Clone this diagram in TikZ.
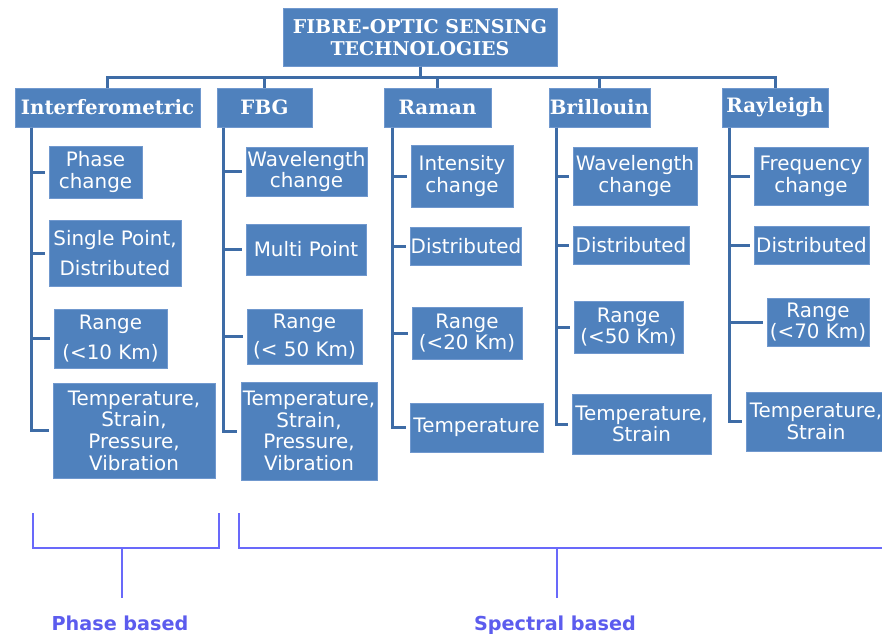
\documentclass[tikz,border=0pt]{standalone}
\usepackage{fontspec}
\setmainfont{DejaVu Sans}
\newfontfamily\hdrfont{DejaVu Serif}
\definecolor{boxfill}{RGB}{79,129,189}
\definecolor{boxedge}{RGB}{112,152,206}
\definecolor{conn}{RGB}{62,108,166}
\definecolor{brk}{RGB}{105,105,250}
\definecolor{brktext}{RGB}{92,92,238}
\begin{document}
\begin{tikzpicture}[x=1pt,y=-1pt,
  wh/.style 2 args={minimum width=#1pt,minimum height=#2pt},
  box/.style={draw=boxedge,line width=1pt,fill=boxfill,text=white,align=center,inner sep=0pt,
    font=\fontsize{19.9}{21.7}\selectfont},
  hdr/.style={box,font=\hdrfont\bfseries\fontsize{19.8}{22}\selectfont},
  ttl/.style={box,font=\hdrfont\bfseries\fontsize{19}{22}\selectfont},
  link/.style={draw=conn,line width=3pt},
  stub/.style={link,shorten >=4pt},
  bracket/.style={draw=brk,line width=2.5pt},
  grp/.style={text=brktext,font=\bfseries\fontsize{19.2}{22}\selectfont,anchor=base,inner sep=0pt}]
\useasboundingbox (0,0) rectangle (882,634);
\fill[white] (0,0) rectangle (882,634);

% title and headers
\node[ttl,wh={274}{57}] (title) at (420,37.5) {FIBRE-OPTIC SENSING\\TECHNOLOGIES};
\node[hdr,wh={185}{39}] (ih) at (107.5,107.5) {Interferometric};
\node[hdr,wh={95}{39}]  (fh) at (264.5,107.5) {FBG};
\node[hdr,wh={107}{39}] (rh) at (437.5,107.5) {Raman};
\node[hdr,wh={101}{39}] (bh) at (599.5,107.5) {Brillouin};
\node[hdr,wh={106}{39}] (yh) at (775,107.5) {Rayleigh};

\foreach \h in {ih,fh,rh,bh,yh}
  \draw[link] (title.south) -- ++(0,11) -| (\h.north);

% column 1
\node[box,wh={93}{52}]  (a1) at (95.5,172)  {Phase\\change};
\node[box,wh={132}{66}] (a2) at (115,253)   {Single Point,\\[8pt]Distributed};
\node[box,wh={113}{59}] (a3) at (110.5,338.5) {Range\\[8pt](<10 Km)};
\node[box,wh={162}{95}] (a4) at (134,430.5) {Temperature,\\Strain,\\Pressure,\\Vibration};
% column 2
\node[box,wh={121}{49}] (b1) at (306.5,171.5) {Wavelength\\change};
\node[box,wh={120}{51}] (b2) at (306,249.5)   {Multi Point};
\node[box,wh={115}{55}] (b3) at (304.5,336.5) {Range\\[6pt](< 50 Km)};
\node[box,wh={136}{98}] (b4) at (309,431)     {Temperature,\\Strain,\\Pressure,\\Vibration};
% column 3
\node[box,wh={102}{62}] (c1) at (462,176)     {Intensity\\change};
\node[box,wh={110}{38}] (c2) at (466,246)     {Distributed};
\node[box,wh={110}{52}] (c3) at (467,333)     {Range\\(<20 Km)};
\node[box,wh={133}{49}] (c4) at (476.5,427.5) {Temperature};
% column 4
\node[box,wh={124}{58}] (d1) at (635,176)     {Wavelength\\change};
\node[box,wh={116}{38}] (d2) at (631,245)     {Distributed};
\node[box,wh={109}{52}] (d3) at (628.5,327)   {Range\\(<50 Km)};
\node[box,wh={139}{60}] (d4) at (641.5,424)   {Temperature,\\Strain};
% column 5
\node[box,wh={114}{58}] (e1) at (811,176)     {Frequency\\change};
\node[box,wh={115}{38}] (e2) at (811.5,245)   {Distributed};
\node[box,wh={102}{48}] (e3) at (818,322)     {Range\\(<70 Km)};
\node[box,wh={140}{59}] (e4) at (816,421.5)   {Temperature,\\Strain};

% trunks and stubs
\foreach \n in {a1,a2,a3,a4}
  \draw[stub] ([xshift=17pt]ih.south west) |- (\n.west);
\foreach \n in {b1,b2,b3,b4}
  \draw[stub] ([xshift=7pt]fh.south west) |- (\n.west);
\foreach \n in {c1,c2,c3,c4}
  \draw[stub] ([xshift=9pt]rh.south west) |- (\n.west);
\foreach \n in {d1,d2,d3,d4}
  \draw[stub] ([xshift=8pt]bh.south west) |- (\n.west);
\foreach \n in {e1,e2,e3,e4}
  \draw[stub] ([xshift=8pt]yh.south west) |- (\n.west);

% grouping brackets
\draw[bracket] (33,513) -- (33,548) -- (219,548) -- (219,513);
\draw[bracket] (239,513) -- (239,548) -- (890,548);
\node[grp] (pb) at (120,630) {Phase based};
\node[grp] (sb) at (555,630) {Spectral based};
\coordinate (pbj) at (122,548);
\coordinate (sbj) at (557,548);
\draw[bracket] (pbj) -- ++(0,50);
\draw[bracket] (sbj) -- ++(0,50);
\end{tikzpicture}
\end{document}
